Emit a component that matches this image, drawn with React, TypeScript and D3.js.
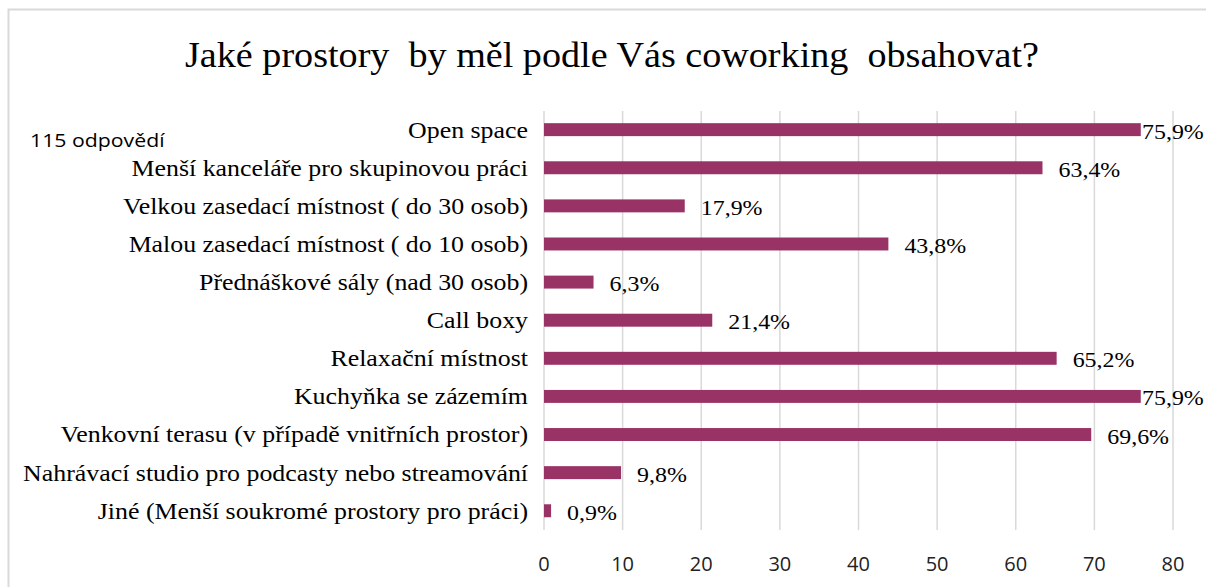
import React from "react";
import * as d3 from "d3";

const categories = [
  "Open space",
  "Menší kanceláře pro skupinovou práci",
  "Velkou zasedací místnost ( do 30 osob)",
  "Malou zasedací místnost ( do 10 osob)",
  "Přednáškové sály (nad 30 osob)",
  "Call boxy",
  "Relaxační místnost",
  "Kuchyňka se zázemím",
  "Venkovní terasu (v případě vnitřních prostor)",
  "Nahrávací studio pro podcasty nebo streamování",
  "Jiné (Menší soukromé prostory pro práci)",
];
const values = [75.9, 63.4, 17.9, 43.8, 6.3, 21.4, 65.2, 75.9, 69.6, 9.8, 0.9];
const xTicks = [0, 10, 20, 30, 40, 50, 60, 70, 80];
const title = "Jaké prostory  by měl podle Vás coworking  obsahovat?";
const subtitle = "115 odpovědí";

const W = 1206;
const H = 587;
const SERIF = "'Liberation Serif', 'Times New Roman', serif";
const SANS = "'Open Sans', 'Noto Sans', sans-serif";

export default function App() {
  const x = d3.scaleLinear().domain([0, 80]).range([544, 1173]);
  const y = d3
    .scaleBand<string>()
    .domain(categories)
    .range([110.6, 529.8])
    .paddingInner(0.66)
    .paddingOuter(0.33);
  const bw = y.bandwidth();
  const fmt = (v: number) => v.toFixed(1).replace(".", ",") + "%";

  return (
    <svg
      width={W}
      height={H}
      style={{ position: "absolute", left: 0, top: 0, background: "#fff" }}
    >
      <rect x={8.5} y={9.5} width={W + 10} height={H + 10} fill="#fff" stroke="#d9d9d9" strokeWidth={2} />
      <text
        transform={`translate(612,67) scale(1.09,1)`}
        textAnchor="middle"
        fontFamily={SERIF}
        fontSize={35}
        fill="#000"
        style={{ whiteSpace: "pre" }}
      >
        {title}
      </text>
      <text
        transform="translate(30,147) scale(1.12,1)"
        fontFamily={SANS}
        fontSize={19}
        fill="#000"
      >
        {subtitle}
      </text>
      {xTicks.map((t) => (
        <line key={"g" + t} x1={x(t)} x2={x(t)} y1={111} y2={530} stroke="#d9d9d9" strokeWidth={1.5} />
      ))}
      {categories.map((c, i) => {
        const cy = (y(c) as number) + bw / 2;
        const bx = x(values[i]);
        const lx = Math.min(bx + 16, 1142);
        return (
          <g key={c}>
            <rect x={x(0)} y={y(c)} width={bx - x(0)} height={bw} fill="#993366" />
            <text
              transform={`translate(528,${cy}) scale(1.15,1)`}
              textAnchor="end"
              dominantBaseline="central"
              fontFamily={SERIF}
              fontSize={22.5}
              fill="#000"
            >
              {c}
            </text>
            <text
              transform={`translate(${lx},${cy + 2}) scale(1.14,1)`}
              dominantBaseline="central"
              fontFamily={SERIF}
              fontSize={21}
              fill="#000"
            >
              {fmt(values[i])}
            </text>
          </g>
        );
      })}
      {xTicks.map((t) => (
        <text
          key={"t" + t}
          x={x(t)}
          y={563}
          textAnchor="middle"
          dominantBaseline="central"
          fontFamily={SANS}
          fontSize={20}
          fill="#222"
        >
          {t}
        </text>
      ))}
    </svg>
  );
}
